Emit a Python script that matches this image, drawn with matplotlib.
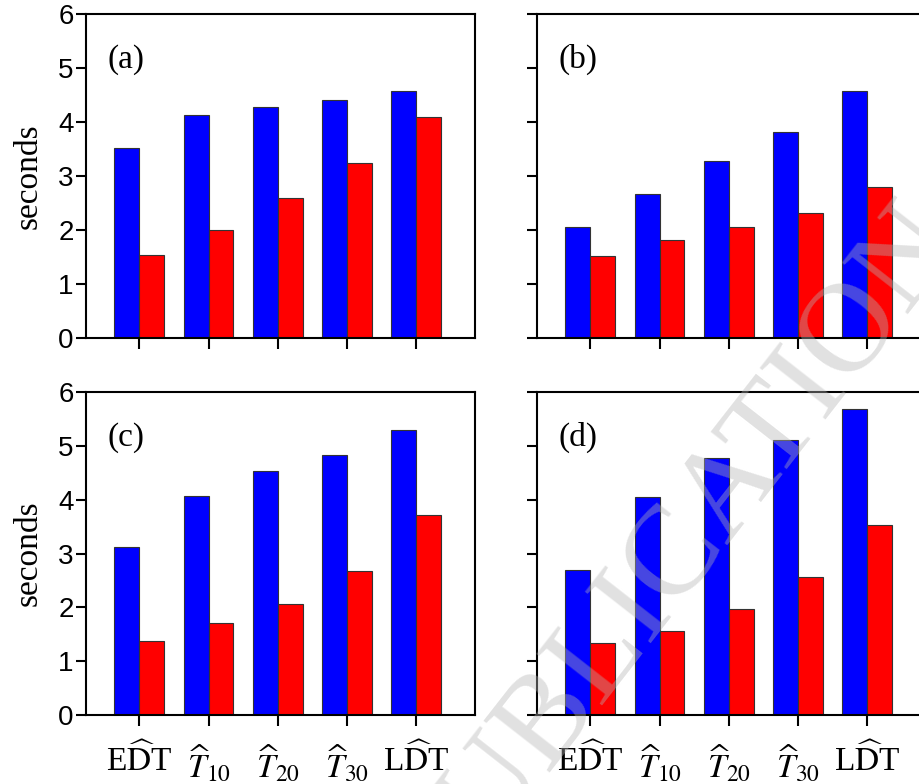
import matplotlib
matplotlib.use("Agg")

import matplotlib.pyplot as plt
import numpy as np

plt.rcParams["mathtext.fontset"] = "stix"

# wartosci (sekundy)
categories = [r"E$\widehat{\mathrm{D}}$T", r"$\widehat{T}_{10}$", r"$\widehat{T}_{20}$",
              r"$\widehat{T}_{30}$", r"L$\widehat{\mathrm{D}}$T"]
panel_names = ["(a)", "(b)", "(c)", "(d)"]

blue_a = [3.51, 4.13, 4.28, 4.41, 4.58]
red_a = [1.53, 2.00, 2.60, 3.25, 4.10]
blue_b = [2.06, 2.67, 3.27, 3.81, 4.57]
red_b = [1.51, 1.81, 2.05, 2.32, 2.80]
blue_c = [3.12, 4.06, 4.53, 4.83, 5.29]
red_c = [1.37, 1.70, 2.06, 2.68, 3.71]
blue_d = [2.69, 4.05, 4.77, 5.10, 5.69]
red_d = [1.33, 1.56, 1.97, 2.57, 3.53]

blues = [blue_a, blue_b, blue_c, blue_d]
reds = [red_a, red_b, red_c, red_d]

W, H = 919, 784
fig = plt.figure(figsize=(W / 100, H / 100), dpi=100)

# pozycje osi w pikselach: lewo, gora, prawo, dol
boxes = [(86, 14, 475, 338), (537, 14, 926, 338),
         (86, 392, 475, 715), (537, 392, 926, 715)]

x = np.arange(len(categories))
w = 0.36

for i, (l, t, r, b) in enumerate(boxes):
    ax = fig.add_axes([l / W, 1 - b / H, (r - l) / W, (b - t) / H])
    ax.bar(x - w / 2, blues[i], w, color="#0000ff", edgecolor="#333333", linewidth=0.8)
    ax.bar(x + w / 2, reds[i], w, color="#ff0000", edgecolor="#333333", linewidth=0.8)
    ax.set_xlim(-0.77, 4.85)
    ax.set_ylim(0, 6)
    ax.set_yticks(range(0, 7))
    ax.set_xticks(x)
    for s in ax.spines.values():
        s.set_linewidth(1.5)
    ax.tick_params(axis="y", direction="out", length=7.5, width=1.5, pad=1.5, labelsize=20)
    ax.tick_params(axis="x", direction="out", length=8, width=1.5, pad=12)
    for lab in ax.get_yticklabels():
        lab.set_family("Liberation Sans")
    if i % 2 == 0:
        ax.set_ylabel("seconds", family="Liberation Serif", fontsize=24)
        ax.yaxis.set_label_coords(-0.11, 0.5)
    else:
        ax.set_yticklabels([])
    if i >= 2:
        ax.set_xticklabels(categories, family="Liberation Serif", fontsize=24)
    else:
        ax.set_xticklabels([])
    ax.text(0.055, 0.86, panel_names[i], transform=ax.transAxes, ha="left", va="center",
            family="Liberation Serif", fontsize=24)

# znak wodny
fig.text(680 / W, 1 - 552 / H, "PUBLICATION", rotation=52, ha="center", va="center",
         family="Liberation Serif", fontsize=92, color="#b4b4b4", alpha=0.4, zorder=10)

fig.savefig("out.png", dpi=100)
